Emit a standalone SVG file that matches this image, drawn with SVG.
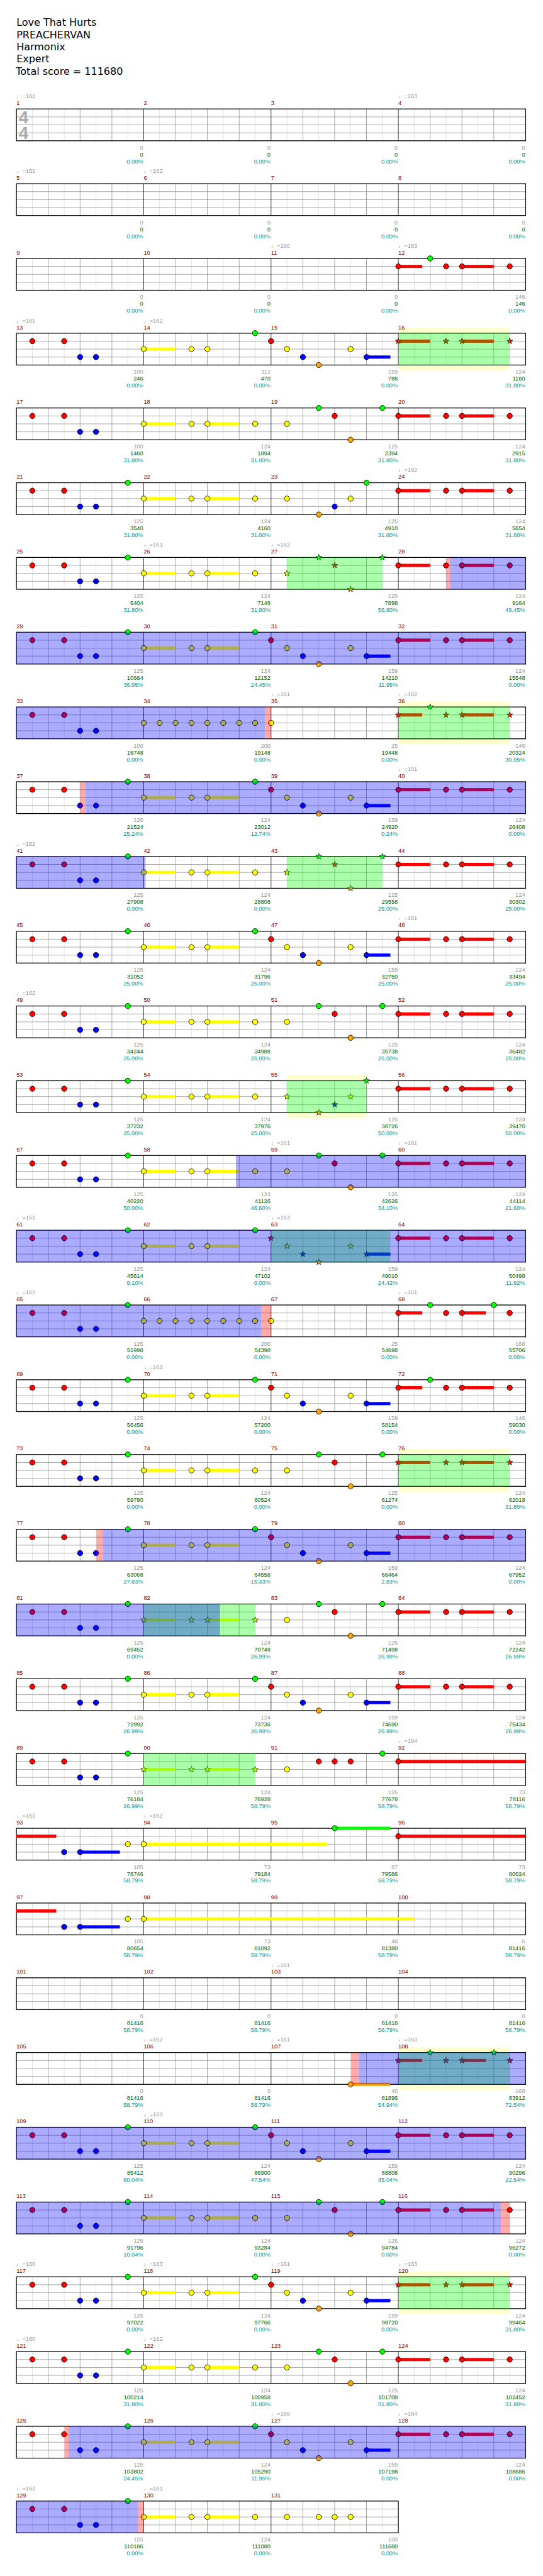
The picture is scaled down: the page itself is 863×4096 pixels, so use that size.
<svg xmlns="http://www.w3.org/2000/svg" width="863" height="4096" viewBox="0 0 863 4096">
<style>
text{font-family:"Liberation Sans",Arial,sans-serif;font-size:11px}
.m{fill:#8b0000}
.p{fill:#999}
.a{fill:#999;text-anchor:end}
.b{fill:#006400;text-anchor:end}
.c{fill:#009999;text-anchor:end}
.h{font-family:"DejaVu Sans",Verdana,sans-serif;font-size:19px;fill:#000}
.ts{font-family:"Liberation Sans",Arial,sans-serif;font-size:33px;font-weight:bold;fill:#aaa;text-anchor:middle}
.sR{fill:#f00}.sY{fill:#ff0}.sB{fill:#00f}.sG{fill:#0f0}.sO{fill:#ffa500}
.oG{fill:#0f0;fill-opacity:.33}.oB{fill:#00f;fill-opacity:.33}.oP{fill:#f00;fill-opacity:.33}
.band{fill:#ffffd0}
.gl{fill:none;stroke:#ddd;stroke-width:1}
.gd{fill:none;stroke:#999;stroke-width:1}
.gm{fill:none;stroke:#000;stroke-width:1}
.gb{fill:none;stroke:#000;stroke-width:1.5}
</style>
<defs>
<circle id="cG" r="5" fill="#0f0" stroke="#000"/>
<circle id="cR" r="5" fill="#f00" stroke="#000"/>
<circle id="cY" r="5" fill="#ff0" stroke="#000"/>
<circle id="cB" r="5" fill="#00f" stroke="#000"/>
<circle id="cO" r="5" fill="#ffa500" stroke="#000"/>
<path id="st" d="M0,-6L1.41,-1.94L5.71,-1.85L2.28,0.74L3.53,4.85L0,2.4L-3.53,4.85L-2.28,0.74L-5.71,-1.85L-1.41,-1.94Z"/>
<use id="kG" href="#st" fill="#0f0" stroke="#000" stroke-width=".8"/>
<use id="kR" href="#st" fill="#f00" stroke="#000" stroke-width=".8"/>
<use id="kY" href="#st" fill="#ff0" stroke="#000" stroke-width=".8"/>
<use id="kB" href="#st" fill="#00f" stroke="#000" stroke-width=".8"/>
<use id="kO" href="#st" fill="#ffa500" stroke="#000" stroke-width=".8"/>
<g id="grid4">
<rect width="960" height="60" fill="#fff"/>
<path class="gl" d="M30 0V60M90 0V60M150 0V60M210 0V60M270 0V60M330 0V60M390 0V60M450 0V60M510 0V60M570 0V60M630 0V60M690 0V60M750 0V60M810 0V60M870 0V60M930 0V60"/>
<path class="gd" d="M0 15H960M0 30H960M0 45H960M60 0V60M120 0V60M180 0V60M300 0V60M360 0V60M420 0V60M540 0V60M600 0V60M660 0V60M780 0V60M840 0V60M900 0V60"/>
<path class="gm" d="M240 0V60M480 0V60M720 0V60"/>
<rect class="gb" width="960" height="60"/>
</g>
<g id="grid3">
<rect width="720" height="60" fill="#fff"/>
<path class="gl" d="M30 0V60M90 0V60M150 0V60M210 0V60M270 0V60M330 0V60M390 0V60M450 0V60M510 0V60M570 0V60M630 0V60M690 0V60"/>
<path class="gd" d="M0 15H720M0 30H720M0 45H720M60 0V60M120 0V60M180 0V60M300 0V60M360 0V60M420 0V60M540 0V60M600 0V60M660 0V60"/>
<path class="gm" d="M240 0V60M480 0V60"/>
<rect class="gb" width="720" height="60"/>
</g>
<g id="P1"><use href="#cR" x="30" y="15"/><use href="#cR" x="90" y="15"/><use href="#cB" x="120" y="45"/><use href="#cB" x="150" y="45"/></g>
<g id="P1G"><use href="#P1"/><use href="#cG" x="210"/></g>
<g id="P2Y"><rect class="sY" y="27" width="60" height="6"/><rect class="sY" x="120" y="27" width="60" height="6"/><use href="#cY" y="30"/><use href="#cY" x="90" y="30"/><use href="#cY" x="120" y="30"/><use href="#cY" x="210" y="30"/></g>
<g id="P2G"><rect class="sY" y="27" width="60" height="6"/><rect class="sY" x="120" y="27" width="60" height="6"/><use href="#cY" y="30"/><use href="#cY" x="90" y="30"/><use href="#cY" x="120" y="30"/><use href="#cG" x="210"/></g>
<g id="P2Yk"><rect class="sY" y="27" width="60" height="6"/><rect class="sY" x="120" y="27" width="60" height="6"/><use href="#kY" y="30"/><use href="#kY" x="90" y="30"/><use href="#kY" x="120" y="30"/><use href="#kY" x="210" y="30"/></g>
<g id="P14"><rect class="sY" y="27" width="60" height="6"/><use href="#cY" y="30"/><use href="#cY" x="90" y="30"/><use href="#cY" x="120" y="30"/><use href="#cG" x="210"/></g>
<g id="P3"><rect class="sB" x="180" y="42" width="45" height="6"/><use href="#cR" y="15"/><use href="#cY" x="30" y="30"/><use href="#cB" x="60" y="45"/><use href="#cO" x="90" y="60"/><use href="#cY" x="150" y="30"/><use href="#cB" x="180" y="45"/></g>
<g id="P3k"><rect class="sB" x="180" y="42" width="45" height="6"/><use href="#kR" y="15"/><use href="#kY" x="30" y="30"/><use href="#kB" x="60" y="45"/><use href="#kO" x="90" y="60"/><use href="#kY" x="150" y="30"/><use href="#kB" x="180" y="45"/></g>
<g id="P4"><use href="#cY" x="30" y="30"/><use href="#cG" x="90"/><use href="#cR" x="120" y="15"/><use href="#cO" x="150" y="60"/><use href="#cG" x="210"/></g>
<g id="P4k"><use href="#kY" x="30" y="30"/><use href="#kG" x="90"/><use href="#kR" x="120" y="15"/><use href="#kO" x="150" y="60"/><use href="#kG" x="210"/></g>
<g id="P5"><use href="#cY" x="30" y="30"/><use href="#cO" x="90" y="60"/><use href="#cB" x="120" y="45"/><use href="#cY" x="150" y="30"/><use href="#cG" x="180"/></g>
<g id="P5k"><use href="#kY" x="30" y="30"/><use href="#kO" x="90" y="60"/><use href="#kB" x="120" y="45"/><use href="#kY" x="150" y="30"/><use href="#kG" x="180"/></g>
<g id="P6"><rect class="sR" y="12" width="60" height="6"/><rect class="sR" x="120" y="12" width="60" height="6"/><use href="#cR" y="15"/><use href="#cR" x="90" y="15"/><use href="#cR" x="120" y="15"/><use href="#cR" x="210" y="15"/></g>
<g id="P6k"><rect class="sR" y="12" width="60" height="6"/><rect class="sR" x="120" y="12" width="60" height="6"/><use href="#kR" y="15"/><use href="#kR" x="90" y="15"/><use href="#kR" x="120" y="15"/><use href="#kR" x="210" y="15"/></g>
<g id="P6a"><rect class="sR" y="12" width="45" height="6"/><rect class="sR" x="120" y="12" width="60" height="6"/><use href="#cR" y="15"/><use href="#cG" x="60"/><use href="#cR" x="90" y="15"/><use href="#cR" x="120" y="15"/><use href="#cR" x="210" y="15"/></g>
<g id="P6ak"><rect class="sR" y="12" width="45" height="6"/><rect class="sR" x="120" y="12" width="60" height="6"/><use href="#kR" y="15"/><use href="#kG" x="60"/><use href="#kR" x="90" y="15"/><use href="#kR" x="120" y="15"/><use href="#kR" x="210" y="15"/></g>
<g id="P6b"><rect class="sR" y="12" width="45" height="6"/><rect class="sR" x="120" y="12" width="45" height="6"/><use href="#cR" y="15"/><use href="#cG" x="60"/><use href="#cR" x="90" y="15"/><use href="#cR" x="120" y="15"/><use href="#cG" x="180"/><use href="#cR" x="210" y="15"/></g>
<g id="P6bk"><rect class="sR" y="12" width="45" height="6"/><rect class="sR" x="120" y="12" width="45" height="6"/><use href="#kR" y="15"/><use href="#kG" x="60"/><use href="#kR" x="90" y="15"/><use href="#kR" x="120" y="15"/><use href="#kG" x="180"/><use href="#kR" x="210" y="15"/></g>
<g id="P8"><use href="#cY" y="30"/><use href="#cY" x="30" y="30"/><use href="#cY" x="60" y="30"/><use href="#cY" x="90" y="30"/><use href="#cY" x="120" y="30"/><use href="#cY" x="150" y="30"/><use href="#cY" x="180" y="30"/><use href="#cY" x="210" y="30"/></g>
<g id="P91"><use href="#cY" x="30" y="30"/><use href="#cR" x="90" y="15"/><use href="#cR" x="120" y="15"/><use href="#cR" x="150" y="15"/><use href="#cG" x="210"/></g>
</defs>
<rect width="863" height="4096" fill="#fff"/>
<g transform="scale(0.843)">
<g id="header">
<text class="h" x="31" y="49">Love That Hurts</text>
<text class="h" x="31" y="72">PREACHERVAN</text>
<text class="h" x="31" y="95">Harmonix</text>
<text class="h" x="31" y="118">Expert</text>
<text class="h" x="30" y="141">Total score = 111680</text>
</g>

<g id="r0" transform="translate(31,205.5)">
<use href="#grid4"/>
<text class="ts" x="13.5" y="26.5">4</text><text class="ts" x="13.5" y="56.5">4</text>
<text class="p" x="0" y="-20.5">♩=161</text><text class="p" x="720" y="-20.5">♩=163</text>
<text class="m" x="0" y="-7.5">1</text><text class="m" x="240" y="-7.5">2</text><text class="m" x="480" y="-7.5">3</text><text class="m" x="720" y="-7.5">4</text>
<text class="a" x="239" y="76.5">0</text><text class="b" x="239" y="89.5">0</text><text class="c" x="239" y="102.5">0.00%</text>
<text class="a" x="479" y="76.5">0</text><text class="b" x="479" y="89.5">0</text><text class="c" x="479" y="102.5">0.00%</text>
<text class="a" x="719" y="76.5">0</text><text class="b" x="719" y="89.5">0</text><text class="c" x="719" y="102.5">0.00%</text>
<text class="a" x="959" y="76.5">0</text><text class="b" x="959" y="89.5">0</text><text class="c" x="959" y="102.5">0.00%</text>
</g>

<g id="r1" transform="translate(31,346.5)">
<use href="#grid4"/>
<text class="p" x="0" y="-20.5">♩=161</text><text class="p" x="240" y="-20.5">♩=162</text>
<text class="m" x="0" y="-7.5">5</text><text class="m" x="240" y="-7.5">6</text><text class="m" x="480" y="-7.5">7</text><text class="m" x="720" y="-7.5">8</text>
<text class="a" x="239" y="76.5">0</text><text class="b" x="239" y="89.5">0</text><text class="c" x="239" y="102.5">0.00%</text>
<text class="a" x="479" y="76.5">0</text><text class="b" x="479" y="89.5">0</text><text class="c" x="479" y="102.5">0.00%</text>
<text class="a" x="719" y="76.5">0</text><text class="b" x="719" y="89.5">0</text><text class="c" x="719" y="102.5">0.00%</text>
<text class="a" x="959" y="76.5">0</text><text class="b" x="959" y="89.5">0</text><text class="c" x="959" y="102.5">0.00%</text>
</g>

<g id="r2" transform="translate(31,487.5)">
<use href="#grid4"/>
<use href="#P6a" x="720"/>
<text class="p" x="480" y="-20.5">♩=160</text><text class="p" x="720" y="-20.5">♩=163</text>
<text class="m" x="0" y="-7.5">9</text><text class="m" x="240" y="-7.5">10</text><text class="m" x="480" y="-7.5">11</text><text class="m" x="720" y="-7.5">12</text>
<text class="a" x="239" y="76.5">0</text><text class="b" x="239" y="89.5">0</text><text class="c" x="239" y="102.5">0.00%</text>
<text class="a" x="479" y="76.5">0</text><text class="b" x="479" y="89.5">0</text><text class="c" x="479" y="102.5">0.00%</text>
<text class="a" x="719" y="76.5">0</text><text class="b" x="719" y="89.5">0</text><text class="c" x="719" y="102.5">0.00%</text>
<text class="a" x="959" y="76.5">146</text><text class="b" x="959" y="89.5">146</text><text class="c" x="959" y="102.5">0.00%</text>
</g>

<g id="r3" transform="translate(31,628.5)">
<rect class="band" x="720" y="-10.5" width="210" height="81.5"/>
<use href="#grid4"/>
<use href="#P1"/><use href="#P14" x="240"/><use href="#P3" x="480"/><use href="#P6k" x="720"/>
<rect class="oG" x="720" width="210" height="60"/>
<text class="p" x="0" y="-20.5">♩=161</text><text class="p" x="240" y="-20.5">♩=162</text>
<text class="m" x="0" y="-7.5">13</text><text class="m" x="240" y="-7.5">14</text><text class="m" x="480" y="-7.5">15</text><text class="m" x="720" y="-7.5">16</text>
<text class="a" x="239" y="76.5">100</text><text class="b" x="239" y="89.5">246</text><text class="c" x="239" y="102.5">0.00%</text>
<text class="a" x="479" y="76.5">112</text><text class="b" x="479" y="89.5">470</text><text class="c" x="479" y="102.5">0.00%</text>
<text class="a" x="719" y="76.5">159</text><text class="b" x="719" y="89.5">788</text><text class="c" x="719" y="102.5">0.00%</text>
<text class="a" x="959" y="76.5">124</text><text class="b" x="959" y="89.5">1160</text><text class="c" x="959" y="102.5">31.80%</text>
</g>

<g id="r4" transform="translate(31,769.5)">
<use href="#grid4"/>
<use href="#P1"/><use href="#P2Y" x="240"/><use href="#P4" x="480"/><use href="#P6" x="720"/>
<text class="m" x="0" y="-7.5">17</text><text class="m" x="240" y="-7.5">18</text><text class="m" x="480" y="-7.5">19</text><text class="m" x="720" y="-7.5">20</text>
<text class="a" x="239" y="76.5">100</text><text class="b" x="239" y="89.5">1460</text><text class="c" x="239" y="102.5">31.80%</text>
<text class="a" x="479" y="76.5">124</text><text class="b" x="479" y="89.5">1894</text><text class="c" x="479" y="102.5">31.80%</text>
<text class="a" x="719" y="76.5">125</text><text class="b" x="719" y="89.5">2394</text><text class="c" x="719" y="102.5">31.80%</text>
<text class="a" x="959" y="76.5">124</text><text class="b" x="959" y="89.5">2915</text><text class="c" x="959" y="102.5">31.80%</text>
</g>

<g id="r5" transform="translate(31,910.5)">
<use href="#grid4"/>
<use href="#P1G"/><use href="#P2Y" x="240"/><use href="#P5" x="480"/><use href="#P6" x="720"/>
<text class="p" x="720" y="-20.5">♩=162</text>
<text class="m" x="0" y="-7.5">21</text><text class="m" x="240" y="-7.5">22</text><text class="m" x="480" y="-7.5">23</text><text class="m" x="720" y="-7.5">24</text>
<text class="a" x="239" y="76.5">125</text><text class="b" x="239" y="89.5">3540</text><text class="c" x="239" y="102.5">31.80%</text>
<text class="a" x="479" y="76.5">124</text><text class="b" x="479" y="89.5">4160</text><text class="c" x="479" y="102.5">31.80%</text>
<text class="a" x="719" y="76.5">125</text><text class="b" x="719" y="89.5">4910</text><text class="c" x="719" y="102.5">31.80%</text>
<text class="a" x="959" y="76.5">124</text><text class="b" x="959" y="89.5">5654</text><text class="c" x="959" y="102.5">31.80%</text>
</g>

<g id="r6" transform="translate(31,1051.5)">
<use href="#grid4"/>
<use href="#P1G"/><use href="#P2Y" x="240"/><use href="#P4k" x="480"/><use href="#P6" x="720"/>
<rect class="oG" x="510" width="180" height="60"/>
<rect class="oP" x="810" width="7.5" height="60"/>
<rect class="oB" x="817.5" width="142.5" height="60"/>
<text class="p" x="240" y="-20.5">♩=161</text><text class="p" x="480" y="-20.5">♩=162</text>
<text class="m" x="0" y="-7.5">25</text><text class="m" x="240" y="-7.5">26</text><text class="m" x="480" y="-7.5">27</text><text class="m" x="720" y="-7.5">28</text>
<text class="a" x="239" y="76.5">125</text><text class="b" x="239" y="89.5">6404</text><text class="c" x="239" y="102.5">31.80%</text>
<text class="a" x="479" y="76.5">124</text><text class="b" x="479" y="89.5">7148</text><text class="c" x="479" y="102.5">31.80%</text>
<text class="a" x="719" y="76.5">125</text><text class="b" x="719" y="89.5">7898</text><text class="c" x="719" y="102.5">56.80%</text>
<text class="a" x="959" y="76.5">124</text><text class="b" x="959" y="89.5">9164</text><text class="c" x="959" y="102.5">49.45%</text>
</g>

<g id="r7" transform="translate(31,1192.5)">
<use href="#grid4"/>
<use href="#P1G"/><use href="#P2G" x="240"/><use href="#P3" x="480"/><use href="#P6" x="720"/>
<rect class="oB" width="960" height="60"/>
<text class="m" x="0" y="-7.5">29</text><text class="m" x="240" y="-7.5">30</text><text class="m" x="480" y="-7.5">31</text><text class="m" x="720" y="-7.5">32</text>
<text class="a" x="239" y="76.5">125</text><text class="b" x="239" y="89.5">10664</text><text class="c" x="239" y="102.5">36.95%</text>
<text class="a" x="479" y="76.5">124</text><text class="b" x="479" y="89.5">12152</text><text class="c" x="479" y="102.5">24.45%</text>
<text class="a" x="719" y="76.5">159</text><text class="b" x="719" y="89.5">14210</text><text class="c" x="719" y="102.5">11.95%</text>
<text class="a" x="959" y="76.5">124</text><text class="b" x="959" y="89.5">15548</text><text class="c" x="959" y="102.5">0.00%</text>
</g>

<g id="r8" transform="translate(31,1333.5)">
<rect class="band" x="720" y="-10.5" width="210" height="81.5"/>
<use href="#grid4"/>
<use href="#P1"/><use href="#P8" x="240"/><use href="#cY" x="480" y="30"/><use href="#P6ak" x="720"/>
<rect class="oG" x="720" width="210" height="60"/>
<rect class="oB" width="468.6" height="60"/>
<rect class="oP" x="468.6" width="11.4" height="60"/>
<text class="p" x="480" y="-20.5">♩=161</text><text class="p" x="720" y="-20.5">♩=162</text>
<text class="m" x="0" y="-7.5">33</text><text class="m" x="240" y="-7.5">34</text><text class="m" x="480" y="-7.5">35</text><text class="m" x="720" y="-7.5">36</text>
<text class="a" x="239" y="76.5">100</text><text class="b" x="239" y="89.5">16748</text><text class="c" x="239" y="102.5">0.00%</text>
<text class="a" x="479" y="76.5">200</text><text class="b" x="479" y="89.5">19148</text><text class="c" x="479" y="102.5">0.00%</text>
<text class="a" x="719" y="76.5">25</text><text class="b" x="719" y="89.5">19448</text><text class="c" x="719" y="102.5">0.00%</text>
<text class="a" x="959" y="76.5">146</text><text class="b" x="959" y="89.5">20324</text><text class="c" x="959" y="102.5">30.95%</text>
</g>

<g id="r9" transform="translate(31,1474.5)">
<use href="#grid4"/>
<use href="#P1G"/><use href="#P2G" x="240"/><use href="#P3" x="480"/><use href="#P6" x="720"/>
<rect class="oP" x="120.5" width="9.8" height="60"/>
<rect class="oB" x="130.3" width="829.7" height="60"/>
<text class="p" x="720" y="-20.5">♩=161</text>
<text class="m" x="0" y="-7.5">37</text><text class="m" x="240" y="-7.5">38</text><text class="m" x="480" y="-7.5">39</text><text class="m" x="720" y="-7.5">40</text>
<text class="a" x="239" y="76.5">125</text><text class="b" x="239" y="89.5">21524</text><text class="c" x="239" y="102.5">25.24%</text>
<text class="a" x="479" y="76.5">124</text><text class="b" x="479" y="89.5">23012</text><text class="c" x="479" y="102.5">12.74%</text>
<text class="a" x="719" y="76.5">159</text><text class="b" x="719" y="89.5">24920</text><text class="c" x="719" y="102.5">0.24%</text>
<text class="a" x="959" y="76.5">124</text><text class="b" x="959" y="89.5">26408</text><text class="c" x="959" y="102.5">0.00%</text>
</g>

<g id="r10" transform="translate(31,1615.5)">
<use href="#grid4"/>
<use href="#P1G"/><use href="#P2Y" x="240"/><use href="#P4k" x="480"/><use href="#P6" x="720"/>
<rect class="oG" x="510" width="180" height="60"/>
<rect class="oB" width="243.3" height="60"/>
<text class="p" x="0" y="-20.5">♩=162</text>
<text class="m" x="0" y="-7.5">41</text><text class="m" x="240" y="-7.5">42</text><text class="m" x="480" y="-7.5">43</text><text class="m" x="720" y="-7.5">44</text>
<text class="a" x="239" y="76.5">125</text><text class="b" x="239" y="89.5">27908</text><text class="c" x="239" y="102.5">0.00%</text>
<text class="a" x="479" y="76.5">124</text><text class="b" x="479" y="89.5">28808</text><text class="c" x="479" y="102.5">0.00%</text>
<text class="a" x="719" y="76.5">125</text><text class="b" x="719" y="89.5">29558</text><text class="c" x="719" y="102.5">25.00%</text>
<text class="a" x="959" y="76.5">124</text><text class="b" x="959" y="89.5">30302</text><text class="c" x="959" y="102.5">25.00%</text>
</g>

<g id="r11" transform="translate(31,1756.5)">
<use href="#grid4"/>
<use href="#P1G"/><use href="#P2G" x="240"/><use href="#P3" x="480"/><use href="#P6" x="720"/>
<text class="p" x="720" y="-20.5">♩=161</text>
<text class="m" x="0" y="-7.5">45</text><text class="m" x="240" y="-7.5">46</text><text class="m" x="480" y="-7.5">47</text><text class="m" x="720" y="-7.5">48</text>
<text class="a" x="239" y="76.5">125</text><text class="b" x="239" y="89.5">31052</text><text class="c" x="239" y="102.5">25.00%</text>
<text class="a" x="479" y="76.5">124</text><text class="b" x="479" y="89.5">31796</text><text class="c" x="479" y="102.5">25.00%</text>
<text class="a" x="719" y="76.5">159</text><text class="b" x="719" y="89.5">32750</text><text class="c" x="719" y="102.5">25.00%</text>
<text class="a" x="959" y="76.5">124</text><text class="b" x="959" y="89.5">33494</text><text class="c" x="959" y="102.5">25.00%</text>
</g>

<g id="r12" transform="translate(31,1897.5)">
<use href="#grid4"/>
<use href="#P1G"/><use href="#P2Y" x="240"/><use href="#P4" x="480"/><use href="#P6" x="720"/>
<text class="p" x="0" y="-20.5">♩=162</text>
<text class="m" x="0" y="-7.5">49</text><text class="m" x="240" y="-7.5">50</text><text class="m" x="480" y="-7.5">51</text><text class="m" x="720" y="-7.5">52</text>
<text class="a" x="239" y="76.5">125</text><text class="b" x="239" y="89.5">34244</text><text class="c" x="239" y="102.5">25.00%</text>
<text class="a" x="479" y="76.5">124</text><text class="b" x="479" y="89.5">34988</text><text class="c" x="479" y="102.5">25.00%</text>
<text class="a" x="719" y="76.5">125</text><text class="b" x="719" y="89.5">35738</text><text class="c" x="719" y="102.5">25.00%</text>
<text class="a" x="959" y="76.5">124</text><text class="b" x="959" y="89.5">36482</text><text class="c" x="959" y="102.5">25.00%</text>
</g>

<g id="r13" transform="translate(31,2038.5)">
<rect class="band" x="510" y="-10.5" width="150" height="81.5"/>
<use href="#grid4"/>
<use href="#P1G"/><use href="#P2Y" x="240"/><use href="#P5k" x="480"/><use href="#P6" x="720"/>
<rect class="oG" x="510" width="150" height="60"/>
<text class="m" x="0" y="-7.5">53</text><text class="m" x="240" y="-7.5">54</text><text class="m" x="480" y="-7.5">55</text><text class="m" x="720" y="-7.5">56</text>
<text class="a" x="239" y="76.5">125</text><text class="b" x="239" y="89.5">37232</text><text class="c" x="239" y="102.5">25.00%</text>
<text class="a" x="479" y="76.5">124</text><text class="b" x="479" y="89.5">37976</text><text class="c" x="479" y="102.5">25.00%</text>
<text class="a" x="719" y="76.5">125</text><text class="b" x="719" y="89.5">38726</text><text class="c" x="719" y="102.5">50.00%</text>
<text class="a" x="959" y="76.5">124</text><text class="b" x="959" y="89.5">39470</text><text class="c" x="959" y="102.5">50.00%</text>
</g>

<g id="r14" transform="translate(31,2179.5)">
<use href="#grid4"/>
<use href="#P1G"/><use href="#P2Y" x="240"/><use href="#P4" x="480"/><use href="#P6" x="720"/>
<rect class="oB" x="413.7" width="546.3" height="60"/>
<text class="p" x="480" y="-20.5">♩=161</text><text class="p" x="720" y="-20.5">♩=161</text>
<text class="m" x="0" y="-7.5">57</text><text class="m" x="240" y="-7.5">58</text><text class="m" x="480" y="-7.5">59</text><text class="m" x="720" y="-7.5">60</text>
<text class="a" x="239" y="76.5">125</text><text class="b" x="239" y="89.5">40220</text><text class="c" x="239" y="102.5">50.00%</text>
<text class="a" x="479" y="76.5">124</text><text class="b" x="479" y="89.5">41126</text><text class="c" x="479" y="102.5">46.60%</text>
<text class="a" x="719" y="76.5">125</text><text class="b" x="719" y="89.5">42626</text><text class="c" x="719" y="102.5">34.10%</text>
<text class="a" x="959" y="76.5">124</text><text class="b" x="959" y="89.5">44114</text><text class="c" x="959" y="102.5">21.60%</text>
</g>

<g id="r15" transform="translate(31,2320.5)">
<use href="#grid4"/>
<use href="#P1G"/><use href="#P2G" x="240"/><use href="#P3k" x="480"/><use href="#P6" x="720"/>
<rect class="oG" x="480" width="225" height="60"/>
<rect class="oB" width="960" height="60"/>
<text class="p" x="0" y="-20.5">♩=161</text><text class="p" x="480" y="-20.5">♩=163</text>
<text class="m" x="0" y="-7.5">61</text><text class="m" x="240" y="-7.5">62</text><text class="m" x="480" y="-7.5">63</text><text class="m" x="720" y="-7.5">64</text>
<text class="a" x="239" y="76.5">125</text><text class="b" x="239" y="89.5">45614</text><text class="c" x="239" y="102.5">9.10%</text>
<text class="a" x="479" y="76.5">124</text><text class="b" x="479" y="89.5">47102</text><text class="c" x="479" y="102.5">0.00%</text>
<text class="a" x="719" y="76.5">159</text><text class="b" x="719" y="89.5">49010</text><text class="c" x="719" y="102.5">24.42%</text>
<text class="a" x="959" y="76.5">124</text><text class="b" x="959" y="89.5">50498</text><text class="c" x="959" y="102.5">11.92%</text>
</g>

<g id="r16" transform="translate(31,2461.5)">
<use href="#grid4"/>
<use href="#P1G"/><use href="#P8" x="240"/><use href="#cY" x="480" y="30"/><use href="#P6b" x="720"/>
<rect class="oB" width="462" height="60"/>
<rect class="oP" x="462" width="18" height="60"/>
<text class="p" x="0" y="-20.5">♩=162</text><text class="p" x="720" y="-20.5">♩=161</text>
<text class="m" x="0" y="-7.5">65</text><text class="m" x="240" y="-7.5">66</text><text class="m" x="480" y="-7.5">67</text><text class="m" x="720" y="-7.5">68</text>
<text class="a" x="239" y="76.5">125</text><text class="b" x="239" y="89.5">51998</text><text class="c" x="239" y="102.5">0.00%</text>
<text class="a" x="479" y="76.5">200</text><text class="b" x="479" y="89.5">54398</text><text class="c" x="479" y="102.5">0.00%</text>
<text class="a" x="719" y="76.5">25</text><text class="b" x="719" y="89.5">54698</text><text class="c" x="719" y="102.5">0.00%</text>
<text class="a" x="959" y="76.5">168</text><text class="b" x="959" y="89.5">55706</text><text class="c" x="959" y="102.5">0.00%</text>
</g>

<g id="r17" transform="translate(31,2602.5)">
<use href="#grid4"/>
<use href="#P1G"/><use href="#P2G" x="240"/><use href="#P3" x="480"/><use href="#P6a" x="720"/>
<text class="p" x="240" y="-20.5">♩=162</text>
<text class="m" x="0" y="-7.5">69</text><text class="m" x="240" y="-7.5">70</text><text class="m" x="480" y="-7.5">71</text><text class="m" x="720" y="-7.5">72</text>
<text class="a" x="239" y="76.5">125</text><text class="b" x="239" y="89.5">56456</text><text class="c" x="239" y="102.5">0.00%</text>
<text class="a" x="479" y="76.5">124</text><text class="b" x="479" y="89.5">57200</text><text class="c" x="479" y="102.5">0.00%</text>
<text class="a" x="719" y="76.5">159</text><text class="b" x="719" y="89.5">58154</text><text class="c" x="719" y="102.5">0.00%</text>
<text class="a" x="959" y="76.5">146</text><text class="b" x="959" y="89.5">59030</text><text class="c" x="959" y="102.5">0.00%</text>
</g>

<g id="r18" transform="translate(31,2743.5)">
<rect class="band" x="720" y="-10.5" width="210" height="81.5"/>
<use href="#grid4"/>
<use href="#P1G"/><use href="#P2Y" x="240"/><use href="#P4" x="480"/><use href="#P6k" x="720"/>
<rect class="oG" x="720" width="210" height="60"/>
<text class="m" x="0" y="-7.5">73</text><text class="m" x="240" y="-7.5">74</text><text class="m" x="480" y="-7.5">75</text><text class="m" x="720" y="-7.5">76</text>
<text class="a" x="239" y="76.5">125</text><text class="b" x="239" y="89.5">59780</text><text class="c" x="239" y="102.5">0.00%</text>
<text class="a" x="479" y="76.5">124</text><text class="b" x="479" y="89.5">60524</text><text class="c" x="479" y="102.5">0.00%</text>
<text class="a" x="719" y="76.5">125</text><text class="b" x="719" y="89.5">61274</text><text class="c" x="719" y="102.5">0.00%</text>
<text class="a" x="959" y="76.5">124</text><text class="b" x="959" y="89.5">62018</text><text class="c" x="959" y="102.5">31.80%</text>
</g>

<g id="r19" transform="translate(31,2884.5)">
<use href="#grid4"/>
<use href="#P1G"/><use href="#P2G" x="240"/><use href="#P3" x="480"/><use href="#P6" x="720"/>
<rect class="oP" x="150.6" width="12.4" height="60"/>
<rect class="oB" x="163" width="797" height="60"/>
<text class="m" x="0" y="-7.5">77</text><text class="m" x="240" y="-7.5">78</text><text class="m" x="480" y="-7.5">79</text><text class="m" x="720" y="-7.5">80</text>
<text class="a" x="239" y="76.5">125</text><text class="b" x="239" y="89.5">63068</text><text class="c" x="239" y="102.5">27.83%</text>
<text class="a" x="479" y="76.5">124</text><text class="b" x="479" y="89.5">64556</text><text class="c" x="479" y="102.5">15.33%</text>
<text class="a" x="719" y="76.5">159</text><text class="b" x="719" y="89.5">66464</text><text class="c" x="719" y="102.5">2.83%</text>
<text class="a" x="959" y="76.5">124</text><text class="b" x="959" y="89.5">67952</text><text class="c" x="959" y="102.5">0.00%</text>
</g>

<g id="r20" transform="translate(31,3025.5)">
<use href="#grid4"/>
<use href="#P1G"/><use href="#P2Yk" x="240"/><use href="#P4" x="480"/><use href="#P6" x="720"/>
<rect class="oG" x="240" width="210.3" height="60"/>
<rect class="oB" width="383.7" height="60"/>
<text class="m" x="0" y="-7.5">81</text><text class="m" x="240" y="-7.5">82</text><text class="m" x="480" y="-7.5">83</text><text class="m" x="720" y="-7.5">84</text>
<text class="a" x="239" y="76.5">125</text><text class="b" x="239" y="89.5">69452</text><text class="c" x="239" y="102.5">0.00%</text>
<text class="a" x="479" y="76.5">124</text><text class="b" x="479" y="89.5">70748</text><text class="c" x="479" y="102.5">26.99%</text>
<text class="a" x="719" y="76.5">125</text><text class="b" x="719" y="89.5">71498</text><text class="c" x="719" y="102.5">26.99%</text>
<text class="a" x="959" y="76.5">124</text><text class="b" x="959" y="89.5">72242</text><text class="c" x="959" y="102.5">26.99%</text>
</g>

<g id="r21" transform="translate(31,3166.5)">
<use href="#grid4"/>
<use href="#P1G"/><use href="#P2G" x="240"/><use href="#P3" x="480"/><use href="#P6" x="720"/>
<text class="m" x="0" y="-7.5">85</text><text class="m" x="240" y="-7.5">86</text><text class="m" x="480" y="-7.5">87</text><text class="m" x="720" y="-7.5">88</text>
<text class="a" x="239" y="76.5">125</text><text class="b" x="239" y="89.5">72992</text><text class="c" x="239" y="102.5">26.99%</text>
<text class="a" x="479" y="76.5">124</text><text class="b" x="479" y="89.5">73736</text><text class="c" x="479" y="102.5">26.99%</text>
<text class="a" x="719" y="76.5">159</text><text class="b" x="719" y="89.5">74690</text><text class="c" x="719" y="102.5">26.99%</text>
<text class="a" x="959" y="76.5">124</text><text class="b" x="959" y="89.5">75434</text><text class="c" x="959" y="102.5">26.99%</text>
</g>

<g id="r22" transform="translate(31,3307.5)">
<use href="#grid4"/>
<use href="#P1G"/><use href="#P2Yk" x="240"/><use href="#P91" x="480"/>
<rect class="sR" x="720" y="12" width="240" height="6"/><use href="#cR" x="720" y="15"/>
<rect class="oG" x="240" width="210" height="60"/>
<text class="p" x="720" y="-20.5">♩=164</text>
<text class="m" x="0" y="-7.5">89</text><text class="m" x="240" y="-7.5">90</text><text class="m" x="480" y="-7.5">91</text><text class="m" x="720" y="-7.5">92</text>
<text class="a" x="239" y="76.5">125</text><text class="b" x="239" y="89.5">76184</text><text class="c" x="239" y="102.5">26.99%</text>
<text class="a" x="479" y="76.5">124</text><text class="b" x="479" y="89.5">76928</text><text class="c" x="479" y="102.5">58.79%</text>
<text class="a" x="719" y="76.5">125</text><text class="b" x="719" y="89.5">77678</text><text class="c" x="719" y="102.5">58.79%</text>
<text class="a" x="959" y="76.5">73</text><text class="b" x="959" y="89.5">78116</text><text class="c" x="959" y="102.5">58.79%</text>
</g>

<g id="r23" transform="translate(31,3448.5)">
<use href="#grid4"/>
<rect class="sR" y="12" width="75" height="6"/>
<rect class="sB" x="120" y="42" width="75" height="6"/>
<use href="#cB" x="90" y="45"/><use href="#cB" x="120" y="45"/><use href="#cY" x="210" y="30"/>
<rect class="sY" x="240" y="27" width="345" height="6"/><use href="#cY" x="240" y="30"/>
<rect class="sG" x="600" y="-3" width="105" height="6"/><use href="#cG" x="600"/>
<rect class="sR" x="720" y="12" width="240" height="6"/><use href="#cR" x="720" y="15"/>
<text class="p" x="0" y="-20.5">♩=161</text><text class="p" x="240" y="-20.5">♩=162</text>
<text class="m" x="0" y="-7.5">93</text><text class="m" x="240" y="-7.5">94</text><text class="m" x="480" y="-7.5">95</text><text class="m" x="720" y="-7.5">96</text>
<text class="a" x="239" y="76.5">105</text><text class="b" x="239" y="89.5">78746</text><text class="c" x="239" y="102.5">58.79%</text>
<text class="a" x="479" y="76.5">73</text><text class="b" x="479" y="89.5">79184</text><text class="c" x="479" y="102.5">58.79%</text>
<text class="a" x="719" y="76.5">67</text><text class="b" x="719" y="89.5">79586</text><text class="c" x="719" y="102.5">58.79%</text>
<text class="a" x="959" y="76.5">73</text><text class="b" x="959" y="89.5">80024</text><text class="c" x="959" y="102.5">58.79%</text>
</g>

<g id="r24" transform="translate(31,3589.5)">
<use href="#grid4"/>
<rect class="sR" y="12" width="75" height="6"/>
<rect class="sB" x="120" y="42" width="75" height="6"/>
<use href="#cB" x="90" y="45"/><use href="#cB" x="120" y="45"/><use href="#cY" x="210" y="30"/>
<rect class="sY" x="240" y="27" width="510" height="6"/><use href="#cY" x="240" y="30"/>
<text class="m" x="0" y="-7.5">97</text><text class="m" x="240" y="-7.5">98</text><text class="m" x="480" y="-7.5">99</text><text class="m" x="720" y="-7.5">100</text>
<text class="a" x="239" y="76.5">105</text><text class="b" x="239" y="89.5">80654</text><text class="c" x="239" y="102.5">58.79%</text>
<text class="a" x="479" y="76.5">73</text><text class="b" x="479" y="89.5">81092</text><text class="c" x="479" y="102.5">58.79%</text>
<text class="a" x="719" y="76.5">48</text><text class="b" x="719" y="89.5">81380</text><text class="c" x="719" y="102.5">58.79%</text>
<text class="a" x="959" y="76.5">6</text><text class="b" x="959" y="89.5">81416</text><text class="c" x="959" y="102.5">58.79%</text>
</g>

<g id="r25" transform="translate(31,3730.5)">
<use href="#grid4"/>
<text class="p" x="480" y="-20.5">♩=161</text>
<text class="m" x="0" y="-7.5">101</text><text class="m" x="240" y="-7.5">102</text><text class="m" x="480" y="-7.5">103</text><text class="m" x="720" y="-7.5">104</text>
<text class="a" x="239" y="76.5">0</text><text class="b" x="239" y="89.5">81416</text><text class="c" x="239" y="102.5">58.79%</text>
<text class="a" x="479" y="76.5">0</text><text class="b" x="479" y="89.5">81416</text><text class="c" x="479" y="102.5">58.79%</text>
<text class="a" x="719" y="76.5">0</text><text class="b" x="719" y="89.5">81416</text><text class="c" x="719" y="102.5">58.79%</text>
<text class="a" x="959" y="76.5">0</text><text class="b" x="959" y="89.5">81416</text><text class="c" x="959" y="102.5">58.79%</text>
</g>

<g id="r26" transform="translate(31,3871.5)">
<rect class="band" x="720" y="-10.5" width="210" height="81.5"/>
<use href="#grid4"/>
<rect class="sO" x="630" y="57" width="75" height="6"/><use href="#cO" x="630" y="60"/>
<use href="#P6bk" x="720"/>
<rect class="oG" x="720" width="210" height="60"/>
<rect class="oP" x="630.6" width="15" height="60"/>
<rect class="oB" x="645.6" width="314.4" height="60"/>
<text class="p" x="240" y="-20.5">♩=162</text><text class="p" x="480" y="-20.5">♩=161</text><text class="p" x="720" y="-20.5">♩=163</text>
<text class="m" x="0" y="-7.5">105</text><text class="m" x="240" y="-7.5">106</text><text class="m" x="480" y="-7.5">107</text><text class="m" x="720" y="-7.5">108</text>
<text class="a" x="239" y="76.5">0</text><text class="b" x="239" y="89.5">81416</text><text class="c" x="239" y="102.5">58.79%</text>
<text class="a" x="479" y="76.5">0</text><text class="b" x="479" y="89.5">81416</text><text class="c" x="479" y="102.5">58.79%</text>
<text class="a" x="719" y="76.5">40</text><text class="b" x="719" y="89.5">81896</text><text class="c" x="719" y="102.5">54.94%</text>
<text class="a" x="959" y="76.5">168</text><text class="b" x="959" y="89.5">83912</text><text class="c" x="959" y="102.5">72.54%</text>
</g>

<g id="r27" transform="translate(31,4012.5)">
<use href="#grid4"/>
<use href="#P1G"/><use href="#P2G" x="240"/><use href="#P3" x="480"/><use href="#P6" x="720"/>
<rect class="oB" width="960" height="60"/>
<text class="p" x="240" y="-20.5">♩=162</text>
<text class="m" x="0" y="-7.5">109</text><text class="m" x="240" y="-7.5">110</text><text class="m" x="480" y="-7.5">111</text><text class="m" x="720" y="-7.5">112</text>
<text class="a" x="239" y="76.5">125</text><text class="b" x="239" y="89.5">85412</text><text class="c" x="239" y="102.5">60.04%</text>
<text class="a" x="479" y="76.5">124</text><text class="b" x="479" y="89.5">86900</text><text class="c" x="479" y="102.5">47.54%</text>
<text class="a" x="719" y="76.5">159</text><text class="b" x="719" y="89.5">88808</text><text class="c" x="719" y="102.5">35.04%</text>
<text class="a" x="959" y="76.5">124</text><text class="b" x="959" y="89.5">90296</text><text class="c" x="959" y="102.5">22.54%</text>
</g>

<g id="r28" transform="translate(31,4153.5)">
<use href="#grid4"/>
<use href="#P1G"/><use href="#P2Y" x="240"/><use href="#P4" x="480"/><use href="#P6" x="720"/>
<rect class="oB" width="913.3" height="60"/>
<rect class="oP" x="913.3" width="16.7" height="60"/>
<text class="m" x="0" y="-7.5">113</text><text class="m" x="240" y="-7.5">114</text><text class="m" x="480" y="-7.5">115</text><text class="m" x="720" y="-7.5">116</text>
<text class="a" x="239" y="76.5">125</text><text class="b" x="239" y="89.5">91796</text><text class="c" x="239" y="102.5">10.04%</text>
<text class="a" x="479" y="76.5">124</text><text class="b" x="479" y="89.5">93284</text><text class="c" x="479" y="102.5">0.00%</text>
<text class="a" x="719" y="76.5">125</text><text class="b" x="719" y="89.5">94784</text><text class="c" x="719" y="102.5">0.00%</text>
<text class="a" x="959" y="76.5">124</text><text class="b" x="959" y="89.5">96272</text><text class="c" x="959" y="102.5">0.00%</text>
</g>

<g id="r29" transform="translate(31,4294.5)">
<rect class="band" x="720" y="-10.5" width="210" height="81.5"/>
<use href="#grid4"/>
<use href="#P1G"/><use href="#P2G" x="240"/><use href="#P3" x="480"/><use href="#P6k" x="720"/>
<rect class="oG" x="720" width="210" height="60"/>
<text class="p" x="0" y="-20.5">♩=160</text><text class="p" x="240" y="-20.5">♩=163</text><text class="p" x="480" y="-20.5">♩=161</text><text class="p" x="720" y="-20.5">♩=163</text>
<text class="m" x="0" y="-7.5">117</text><text class="m" x="240" y="-7.5">118</text><text class="m" x="480" y="-7.5">119</text><text class="m" x="720" y="-7.5">120</text>
<text class="a" x="239" y="76.5">125</text><text class="b" x="239" y="89.5">97022</text><text class="c" x="239" y="102.5">0.00%</text>
<text class="a" x="479" y="76.5">124</text><text class="b" x="479" y="89.5">97766</text><text class="c" x="479" y="102.5">0.00%</text>
<text class="a" x="719" y="76.5">159</text><text class="b" x="719" y="89.5">98720</text><text class="c" x="719" y="102.5">0.00%</text>
<text class="a" x="959" y="76.5">124</text><text class="b" x="959" y="89.5">99464</text><text class="c" x="959" y="102.5">31.80%</text>
</g>

<g id="r30" transform="translate(31,4435.5)">
<use href="#grid4"/>
<use href="#P1G"/><use href="#P2Y" x="240"/><use href="#P4" x="480"/><use href="#P6" x="720"/>
<text class="p" x="0" y="-20.5">♩=160</text><text class="p" x="240" y="-20.5">♩=162</text>
<text class="m" x="0" y="-7.5">121</text><text class="m" x="240" y="-7.5">122</text><text class="m" x="480" y="-7.5">123</text><text class="m" x="720" y="-7.5">124</text>
<text class="a" x="239" y="76.5">125</text><text class="b" x="239" y="89.5">100214</text><text class="c" x="239" y="102.5">31.80%</text>
<text class="a" x="479" y="76.5">124</text><text class="b" x="479" y="89.5">100958</text><text class="c" x="479" y="102.5">31.80%</text>
<text class="a" x="719" y="76.5">125</text><text class="b" x="719" y="89.5">101708</text><text class="c" x="719" y="102.5">31.80%</text>
<text class="a" x="959" y="76.5">124</text><text class="b" x="959" y="89.5">102452</text><text class="c" x="959" y="102.5">31.80%</text>
</g>

<g id="r31" transform="translate(31,4576.5)">
<use href="#grid4"/>
<use href="#P1G"/><use href="#P2G" x="240"/><use href="#P3" x="480"/><use href="#P6" x="720"/>
<rect class="oP" x="90.5" width="7.8" height="60"/>
<rect class="oB" x="98.3" width="861.7" height="60"/>
<text class="p" x="480" y="-20.5">♩=159</text><text class="p" x="720" y="-20.5">♩=164</text>
<text class="m" x="0" y="-7.5">125</text><text class="m" x="240" y="-7.5">126</text><text class="m" x="480" y="-7.5">127</text><text class="m" x="720" y="-7.5">128</text>
<text class="a" x="239" y="76.5">125</text><text class="b" x="239" y="89.5">103802</text><text class="c" x="239" y="102.5">24.45%</text>
<text class="a" x="479" y="76.5">124</text><text class="b" x="479" y="89.5">105290</text><text class="c" x="479" y="102.5">11.95%</text>
<text class="a" x="719" y="76.5">159</text><text class="b" x="719" y="89.5">107198</text><text class="c" x="719" y="102.5">0.00%</text>
<text class="a" x="959" y="76.5">124</text><text class="b" x="959" y="89.5">108686</text><text class="c" x="959" y="102.5">0.00%</text>
</g>

<g id="r32" transform="translate(31,4717.5)">
<use href="#grid3"/>
<use href="#P1G"/><use href="#P2Y" x="240"/>
<use href="#cY" x="510" y="30"/><use href="#cY" x="570" y="30"/><use href="#cY" x="600" y="30"/><use href="#cY" x="630" y="30"/>
<rect class="oB" width="229" height="60"/>
<rect class="oP" x="229" width="11" height="60"/>
<text class="p" x="0" y="-20.5">♩=163</text><text class="p" x="240" y="-20.5">♩=161</text>
<text class="m" x="0" y="-7.5">129</text><text class="m" x="240" y="-7.5">130</text><text class="m" x="480" y="-7.5">131</text>
<text class="a" x="239" y="76.5">125</text><text class="b" x="239" y="89.5">110186</text><text class="c" x="239" y="102.5">0.00%</text>
<text class="a" x="479" y="76.5">124</text><text class="b" x="479" y="89.5">111080</text><text class="c" x="479" y="102.5">0.00%</text>
<text class="a" x="719" y="76.5">100</text><text class="b" x="719" y="89.5">111680</text><text class="c" x="719" y="102.5">0.00%</text>
</g>
</g>
</svg>
